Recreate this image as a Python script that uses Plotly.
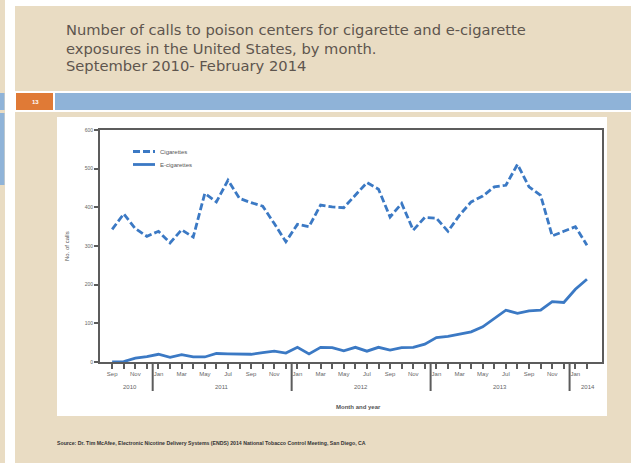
import plotly.graph_objects as go

# ---------------- data ----------------
months = ["Sep", "Oct", "Nov", "Dec"] + ["Jan", "Feb", "Mar", "Apr", "May", "Jun", "Jul", "Aug", "Sep", "Oct", "Nov", "Dec"] * 3 + ["Jan", "Feb"]
cigarettes = [343, 383, 345, 325, 338, 308, 342, 323, 436, 414, 470, 423, 412, 403, 358, 311,
              356, 350, 406, 401, 399, 432, 464, 447, 375, 410, 341, 374, 372, 338, 380, 414,
              429, 453, 457, 511, 453, 431, 326, 338, 350, 302]
ecigarettes = [0, 1, 10, 14, 20, 12, 19, 13, 13, 22, 21, 20, 20, 24, 28, 23,
               38, 21, 38, 37, 29, 38, 28, 38, 31, 37, 38, 46, 63, 66, 72, 78,
               91, 113, 134, 126, 132, 134, 156, 154, 188, 214]
series_names = ["Cigarettes", "E-cigarettes"]
years = ["2010", "2011", "2012", "2013", "2014"]
year_pos = [1.5, 9.5, 21.5, 33.5, 41.1]
year_breaks = [3.5, 15.5, 27.5, 39.5]
y_ticks = [0, 100, 200, 300, 400, 500, 600]
title_lines = ["Number of calls to poison centers for cigarette and e-cigarette",
               "exposures in the United States, by month.",
               "September 2010- February 2014"]
source_text = ("Source: Dr. Tim McAfee, Electronic Nicotine Delivery Systems (ENDS) 2014 National "
               "Tobacco Control Meeting, San Diego, CA")

# ---------------- geometry ----------------
W, H = 631, 463
L, R, T, B = 100, 602, 130, 362


def px(x):
    return (x - L) / (R - L)


def py(y):
    return (B - y) / (B - T)


idx = list(range(len(months)))
ticktext = [m if i % 2 == 0 else "" for i, m in enumerate(months)]

LINE = "#3b79c4"
AX = "#5c5c5c"
BEIGE = "#e9dcc3"
BLUE = "#8fb3d8"
ORANGE = "#e07a36"
DASH = "7px,3px"
LW = 2.8

fig = go.Figure()
fig.add_trace(go.Scatter(x=idx, y=cigarettes, mode="lines", name=series_names[0],
                         line=dict(color=LINE, width=LW, dash=DASH)))
fig.add_trace(go.Scatter(x=idx, y=ecigarettes, mode="lines", name=series_names[1],
                         line=dict(color=LINE, width=LW)))


def rect(x0, y0, x1, y1, color):
    return dict(type="rect", xref="paper", yref="paper", x0=px(x0), x1=px(x1),
                y0=py(y1), y1=py(y0), fillcolor=color, line=dict(width=0), layer="below")


shapes = [
    rect(5, 0, 631, 6, "white"),
    rect(5, 0, 15, 463, "white"),
    rect(15, 91, 631, 112, "white"),
    rect(16, 93, 53, 110, ORANGE),
    rect(55, 93, 631, 110, BLUE),
    rect(0, 93, 4.5, 110, BLUE),
    rect(0, 113, 4.5, 185, BLUE),
    rect(57, 117, 607, 416, "white"),
]
for xb in year_breaks:
    shapes.append(dict(type="line", xref="x", yref="paper", x0=xb, x1=xb,
                       y0=0, y1=py(391), line=dict(color=AX, width=2)))

annotations = []
# manual legend (compact, like the reference)
for k, (nm, dash) in enumerate(zip(series_names, [DASH, "solid"])):
    yy = 151.5 + k * 13
    shapes.append(dict(type="line", xref="paper", yref="paper", x0=px(133), x1=px(155),
                       y0=py(yy), y1=py(yy), line=dict(color=LINE, width=LW, dash=dash)))
    annotations.append(dict(text=nm, xref="paper", yref="paper", x=px(158), y=py(yy),
                            xanchor="left", yanchor="middle", showarrow=False,
                            font=dict(family="Arial", size=6, color="#555555")))

for i, t in enumerate(title_lines):
    annotations.append(dict(text=t, xref="paper", yref="paper", x=px(64), y=py(30 + i * 18),
                            xanchor="left", yanchor="middle", showarrow=False,
                            font=dict(family="DejaVu Sans", size=14.7, color="#5e554e")))
annotations.append(dict(text="<b>13</b>", xref="paper", yref="paper", x=px(35), y=py(101.5),
                        xanchor="center", yanchor="middle", showarrow=False,
                        font=dict(family="Arial", size=6, color="white")))
annotations.append(dict(text="<b>" + source_text + "</b>", xref="paper", yref="paper",
                        x=px(55), y=py(443), xanchor="left", yanchor="middle", showarrow=False,
                        font=dict(family="Arial", size=5.2, color="#333333")))
for yr, xp in zip(years, year_pos):
    annotations.append(dict(text=yr, xref="x", yref="paper", x=xp, y=py(387),
                            xanchor="center", yanchor="middle", showarrow=False,
                            font=dict(family="Arial", size=6, color="#666666")))
annotations.append(dict(text="<b>Month and year</b>", xref="paper", yref="paper", x=px(358),
                        y=py(407), xanchor="center", yanchor="middle", showarrow=False,
                        font=dict(family="Arial", size=6, color="#555555")))
annotations.append(dict(text="No. of calls", xref="paper", yref="paper", x=px(67),
                        y=py(246), xanchor="center", yanchor="middle", showarrow=False,
                        textangle=-90, font=dict(family="Arial", size=6, color="#555555")))

fig.update_layout(
    width=W, height=H,
    margin=dict(l=L, r=W - R, t=T, b=H - B, pad=0),
    paper_bgcolor=BEIGE, plot_bgcolor="white",
    shapes=shapes, annotations=annotations,
    showlegend=False,
    xaxis=dict(range=[-1.05, 42.3], tickmode="array", tickvals=idx, ticktext=ticktext,
               ticks="outside", ticklen=5, tickwidth=2, tickcolor=AX,
               showline=True, linecolor=AX, linewidth=2, mirror=True,
               showgrid=False, zeroline=False,
               tickfont=dict(family="Arial", size=6, color="#666666")),
    yaxis=dict(range=[0, 600], tickvals=y_ticks, ticks="outside", ticklen=4, tickwidth=2,
               tickcolor=AX, showline=True, linecolor=AX, linewidth=2, mirror=True,
               showgrid=False, zeroline=False,
               tickfont=dict(family="Arial", size=5, color="#666666")),
)

fig.write_html("out.html")
